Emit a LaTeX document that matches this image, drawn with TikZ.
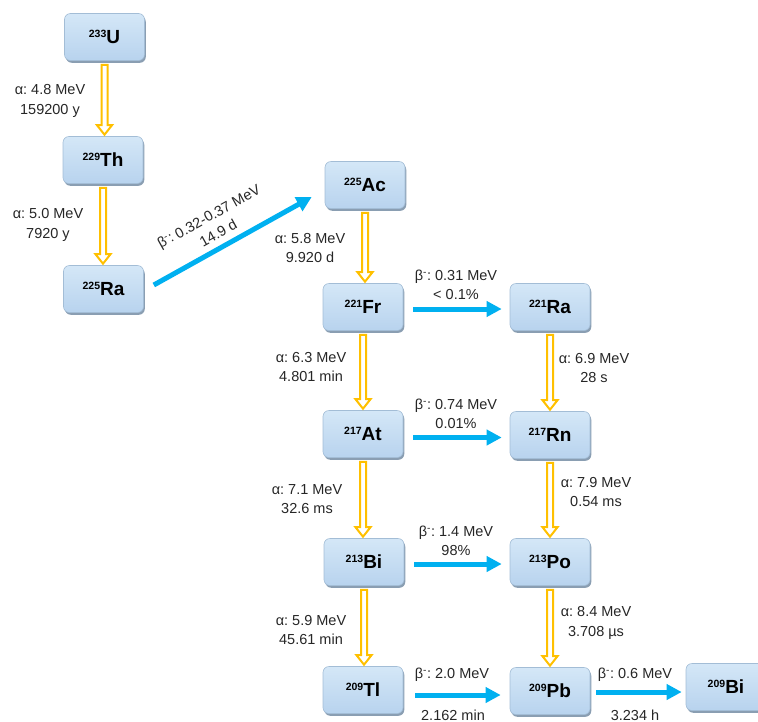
\documentclass[tikz,border=0pt]{standalone}
\usepackage{fontspec}
\setmainfont{Liberation Sans}
\frenchspacing
\usetikzlibrary{arrows.meta,calc,shadows}
\definecolor{aorange}{HTML}{FFC000}
\definecolor{bblue}{HTML}{00B0F0}
\definecolor{ntop}{HTML}{D4E7F7}
\definecolor{nbot}{HTML}{B8D3EE}
\definecolor{nedge}{HTML}{A3BDD6}
\definecolor{nshadow}{HTML}{8A9EB2}
\definecolor{labc}{HTML}{262626}
\newcommand\iso[2]{\raisebox{6.5pt}{\fontsize{10.5}{11}\selectfont #1}#2}
\newcommand\bm{β\textsuperscript{-}}
\newcommand\alphadecay[2]{%
  \path[alphast] let \p1=(#1.south), \p2=(#2.north) in
   (\x1-3pt,\y1-4pt) -- (\x1-3pt,\y2+11pt) -- (\x1-7.5pt,\y2+11pt) -- (\x1,\y2+1.5pt)
   -- (\x1+7.5pt,\y2+11pt) -- (\x1+3pt,\y2+11pt) -- (\x1+3pt,\y1-4pt) -- cycle;}
\begin{document}
\begin{tikzpicture}[x=1pt,y=-1pt,
  nuc/.style={rounded corners=6pt, minimum width=80pt, minimum height=47pt,
    top color=ntop, bottom color=nbot, draw=nedge, line width=0.6pt,
    font=\fontsize{19}{20}\selectfont\bfseries, inner sep=0pt,
    general shadow={fill=nshadow, shadow xshift=1.3pt, shadow yshift=-2.3pt}},
  lab/.style={font=\fontsize{14.5}{19.5}\selectfont, text=labc, align=center, inner sep=0pt},
  alphast/.style={draw=aorange, fill=white, line width=2pt, line join=miter},
  beta/.style={bblue, line width=5pt, -{Triangle[length=15pt,width=15pt]}},
]
\useasboundingbox (0,0) rectangle (758,721);
\clip (0,0) rectangle (758,721);
% nuclides
\node[nuc] (u233)  at (104.5,37)  {\iso{233}{U}};
\node[nuc] (th229) at (103,160)   {\iso{229}{Th}};
\node[nuc] (ra225) at (103.5,289) {\iso{225}{Ra}};
\node[nuc] (ac225) at (365,185)   {\iso{225}{Ac}};
\node[nuc] (fr221) at (363,307)   {\iso{221}{Fr}};
\node[nuc] (ra221) at (550,307)   {\iso{221}{Ra}};
\node[nuc] (at217) at (363,434)   {\iso{217}{At}};
\node[nuc] (rn217) at (550,435)   {\iso{217}{Rn}};
\node[nuc] (bi213) at (364,562)   {\iso{213}{Bi}};
\node[nuc] (po213) at (550,562)   {\iso{213}{Po}};
\node[nuc] (tl209) at (363,690)   {\iso{209}{Tl}};
\node[nuc] (pb209) at (550,691)   {\iso{209}{Pb}};
\node[nuc] (bi209) at (726,687)   {\iso{209}{Bi}};
% alpha decays
\alphadecay{u233}{th229}
\alphadecay{th229}{ra225}
\alphadecay{ac225}{fr221}
\alphadecay{fr221}{at217}
\alphadecay{ra221}{rn217}
\alphadecay{at217}{bi213}
\alphadecay{rn217}{po213}
\alphadecay{bi213}{tl209}
\alphadecay{po213}{pb209}
% beta decays
\coordinate (d1) at ($(ra225.east)+(10,-4)$);
\coordinate (d2) at ($(ac225.west)+(-13,12)$);
\draw[beta] (d1) -- (d2) node[lab, sloped, pos=0.45, above=6pt] (ldiag) {\bm: 0.32-0.37 MeV\\14.9 d};
\draw[beta, shorten <=10pt, shorten >=8pt] ([yshift=-2pt]fr221.east) -- ([yshift=-2pt]ra221.west);
\draw[beta, shorten <=10pt, shorten >=8pt] ([yshift=-3.5pt]at217.east) -- ([yshift=-2.5pt]rn217.west);
\draw[beta, shorten <=10pt, shorten >=8pt] ([yshift=-2pt]bi213.east) -- ([yshift=-2pt]po213.west);
\draw[beta, shorten <=12pt, shorten >=9pt] ([yshift=-5pt]tl209.east) -- ([yshift=-4pt]pb209.west);
\draw[beta, shorten <=6pt, shorten >=4pt] ([yshift=-1pt]pb209.east) -- ([yshift=-1pt]pb209.east -| bi209.west);
% labels
\node[lab] (l1) at (50,101)  {α: 4.8 MeV\\159200 y};
\node[lab] (l2) at (48,225)  {α: 5.0 MeV\\7920 y};
\node[lab] (l3) at (310,248) {α: 5.8 MeV\\9.920 d};
\node[lab] (l4) at (456,285) {\bm: 0.31 MeV\\< 0.1\%};
\node[lab] (l5) at (311,367) {α: 6.3 MeV\\4.801 min};
\node[lab] (l6) at (594,368) {α: 6.9 MeV\\28 s};
\node[lab] (l7) at (456,414) {\bm: 0.74 MeV\\0.01\%};
\node[lab] (l8) at (307,499) {α: 7.1 MeV\\32.6 ms};
\node[lab] (l9) at (596,492) {α: 7.9 MeV\\0.54 ms};
\node[lab] (l10) at (456,541) {\bm: 1.4 MeV\\98\%};
\node[lab] (l11) at (311,630) {α: 5.9 MeV\\45.61 min};
\node[lab] (l12) at (596,623) {α: 8.4 MeV\\3.708 µs};
\node[lab] (l13) at (452,675) {\bm: 2.0 MeV};
\node[lab] (l14) at (453,715) {2.162 min};
\node[lab] (l15) at (635,675) {\bm: 0.6 MeV};
\node[lab] (l16) at (635,715) {3.234 h};
\end{tikzpicture}
\end{document}
